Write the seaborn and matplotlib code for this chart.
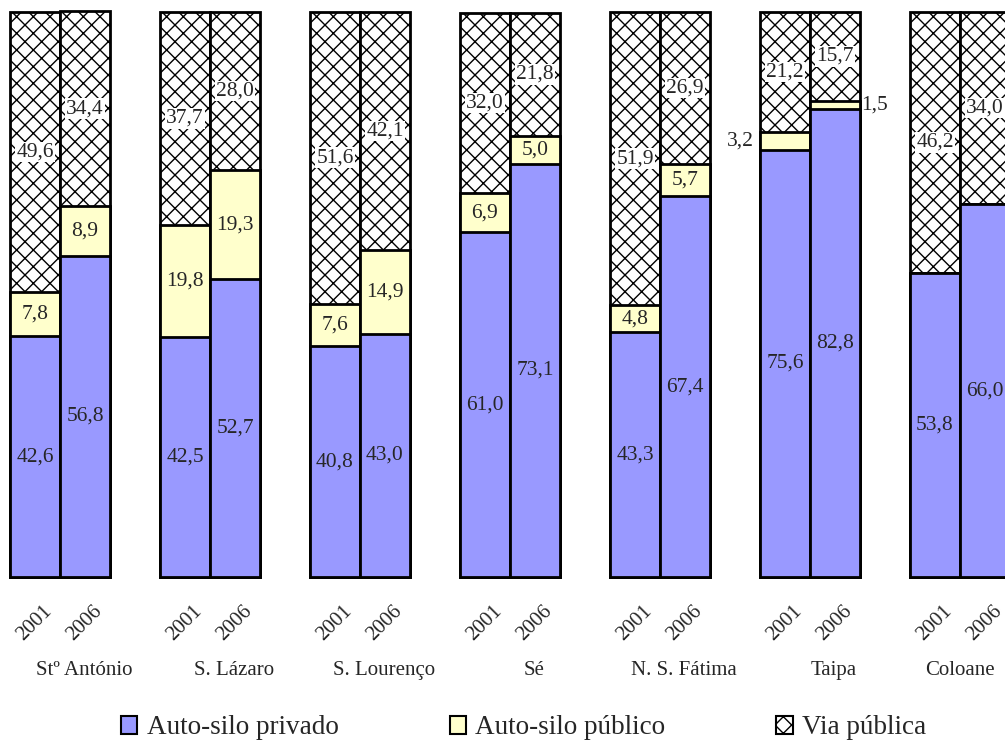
import pandas as pd
import matplotlib
matplotlib.use("Agg")
import matplotlib.pyplot as plt
from matplotlib.patches import Patch
import seaborn as sns

regions = ["Stº António", "S. Lázaro", "S. Lourenço", "Sé", "N. S. Fátima", "Taipa", "Coloane"]
years = ["2001", "2006"]

privado_2001 = [42.6, 42.5, 40.8, 61.0, 43.3, 75.6, 53.8]
publico_2001 = [7.8, 19.8, 7.6, 6.9, 4.8, 3.2, 0.0]
via_2001 = [49.6, 37.7, 51.6, 32.0, 51.9, 21.2, 46.2]

privado_2006 = [56.8, 52.7, 43.0, 73.1, 67.4, 82.8, 66.0]
publico_2006 = [8.9, 19.3, 14.9, 5.0, 5.7, 1.5, 0.0]
via_2006 = [34.4, 28.0, 42.1, 21.8, 26.9, 15.7, 34.0]

series_names = ["Auto-silo privado", "Auto-silo público", "Via pública"]
colors = ["#9999FF", "#FFFFCC", "white"]

# long table: one row per bar
rows = []
for g, reg in enumerate(regions):
    for i, (yr, pv, pb, vp) in enumerate([
        (years[0], privado_2001[g], publico_2001[g], via_2001[g]),
        (years[1], privado_2006[g], publico_2006[g], via_2006[g]),
    ]):
        rows.append({"region": reg, "year": yr, "pos": 3 * g + i,
                     "privado": pv, "publico": pb, "via": vp})
df = pd.DataFrame(rows)
df["cum1"] = df["privado"]
df["cum2"] = df["privado"] + df["publico"]
df["cum3"] = df["cum2"] + df["via"]

sns.set_style("white")
plt.rcParams["font.family"] = ["Liberation Serif", "DejaVu Serif"]
plt.rcParams["hatch.linewidth"] = 1.0

fig = plt.figure(figsize=(10.05, 7.42), dpi=100)
ax = fig.add_axes([0, 165 / 742, 1, 565 / 742])

bar_kws = dict(x="pos", native_scale=True, width=1.0, saturation=1, errorbar=None,
               edgecolor="black", linewidth=2, clip_on=False, ax=ax)
# draw from the top layer down so each lower layer covers the one behind
sns.barplot(data=df, y="cum3", color=colors[2], hatch="xx", **bar_kws)
sns.barplot(data=df, y="cum2", color=colors[1], **bar_kws)
sns.barplot(data=df, y="cum1", color=colors[0], **bar_kws)

fmt = lambda v: f"{v:.1f}".replace(".", ",")
fs = 15.5

for _, r in df.iterrows():
    x = r["pos"]
    ax.text(x, r["privado"] / 2, fmt(r["privado"]), ha="center", va="center", fontsize=fs)
    if r["publico"] > 0:
        yc = r["cum1"] + r["publico"] / 2
        if r["publico"] < 4:
            if r["year"] == "2001":
                ax.text(x - 0.62, yc, fmt(r["publico"]), ha="right", va="center", fontsize=fs)
            else:
                ax.text(x + 0.53, yc, fmt(r["publico"]), ha="left", va="center", fontsize=fs)
        else:
            ax.text(x, yc, fmt(r["publico"]), ha="center", va="center", fontsize=fs)
    ax.text(x, r["cum2"] + r["via"] / 2, fmt(r["via"]), ha="center", va="center", fontsize=fs,
            bbox=dict(facecolor="white", edgecolor="none", pad=0.6))

for g, reg in enumerate(regions):
    # last label pulled back so it stays inside the figure
    off = 0.48 if g < len(regions) - 1 else 0.0
    ax.text(3 * g + 0.5 + off, -16.5, reg, ha="center", va="center", fontsize=15, clip_on=False)

ax.set_xlim(-0.7, -0.7 + 1005 / 50)
ax.set_ylim(0, 100)
ax.set_xticks(df["pos"])
ax.set_xticklabels(df["year"], rotation=45, ha="center", va="top", fontsize=15)
ax.tick_params(axis="x", length=0, pad=18)
ax.set_yticks([])
ax.set_xlabel("")
ax.set_ylabel("")
for s in ax.spines.values():
    s.set_visible(False)

handles = [Patch(facecolor=colors[0], edgecolor="black", linewidth=1.5),
           Patch(facecolor=colors[1], edgecolor="black", linewidth=1.5),
           Patch(facecolor=colors[2], edgecolor="black", linewidth=1.5, hatch="xx")]
fig.legend(handles, series_names, loc="center", bbox_to_anchor=(0.521, 1 - 728 / 742),
           ncol=3, frameon=False, fontsize=19.5, handlelength=0.6, handleheight=0.6,
           handletextpad=0.35, columnspacing=4.1)

fig.savefig("out.png", dpi=100)
